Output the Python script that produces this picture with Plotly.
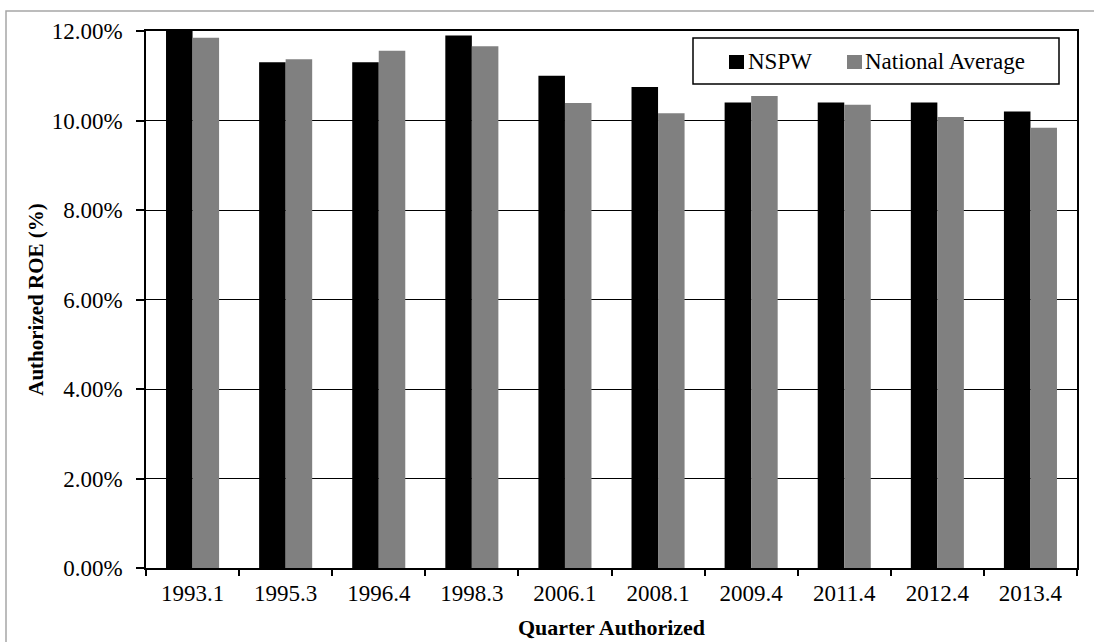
import plotly.graph_objects as go

# Authorized return on equity by rate-case quarter
quarters = ["1993.1", "1995.3", "1996.4", "1998.3", "2006.1",
            "2008.1", "2009.4", "2011.4", "2012.4", "2013.4"]
nspw_roe = [12.00, 11.30, 11.30, 11.90, 11.00, 10.75, 10.40, 10.40, 10.40, 10.20]
national_avg_roe = [11.85, 11.37, 11.56, 11.66, 10.39, 10.16, 10.55, 10.35, 10.08, 9.84]

series_names = ["NSPW", "National Average"]
series_colors = ["#000000", "#808080"]

FONT = "Liberation Serif"

# Figure geometry (pixels)
W, H = 1094, 642
ML, MR, MT, MB = 146, 17, 31, 74
PW, PH = W - ML - MR, H - MT - MB


def px_x(x):
    return (x - ML) / PW


def px_y(y):
    return (H - MB - y) / PH


fig = go.Figure()
for name, vals, col in zip(series_names, [nspw_roe, national_avg_roe], series_colors):
    fig.add_trace(go.Bar(
        x=quarters, y=vals, name=name,
        marker=dict(color=col, line=dict(width=0)),
        showlegend=False,
    ))

fig.update_layout(
    width=W, height=H,
    margin=dict(l=ML, r=MR, t=MT, b=MB, autoexpand=False),
    paper_bgcolor="white", plot_bgcolor="white",
    barmode="group", bargap=0.43, bargroupgap=0.0,
    font=dict(family=FONT, size=23, color="black"),
)

fig.update_xaxes(
    type="category",
    showline=True, linecolor="black", linewidth=1.5, mirror=True,
    ticks="outside", tickson="boundaries", ticklen=6, tickcolor="black", tickwidth=1.5,
    ticklabelstandoff=4,
    tickfont=dict(family=FONT, size=23, color="black"),
    showgrid=False,
    title=dict(text="<b>Quarter Authorized</b>", font=dict(family=FONT, size=22, color="black"),
               standoff=14),
)

fig.update_yaxes(
    range=[0, 12], dtick=2, tick0=0,
    tickformat=".2f", ticksuffix="%",
    showline=True, linecolor="black", linewidth=1.5, mirror=True,
    ticks="outside", ticklen=8, tickcolor="black", tickwidth=1.5,
    ticklabelstandoff=9,
    tickfont=dict(family=FONT, size=23, color="black"),
    showgrid=True, gridcolor="black", gridwidth=1,
    zeroline=False,
    title=dict(text="<b>Authorized ROE (%)</b>", font=dict(family=FONT, size=21, color="black"),
               standoff=2),
)

shapes = []
# outer chart border
shapes.append(dict(type="rect", xref="paper", yref="paper",
                   x0=px_x(6), x1=px_x(1120), y0=px_y(11), y1=px_y(680),
                   line=dict(color="#a6a6a6", width=1.5), fillcolor="rgba(0,0,0,0)", layer="below"))
# legend box
shapes.append(dict(type="rect", xref="paper", yref="paper",
                   x0=px_x(693), x1=px_x(1059), y0=px_y(38), y1=px_y(84),
                   line=dict(color="black", width=1.5), fillcolor="white", layer="above"))

annotations = []
swatch_x = [729, 847]
text_x = [746, 863]
for name, col, sx, tx in zip(series_names, series_colors, swatch_x, text_x):
    shapes.append(dict(type="rect", xref="paper", yref="paper",
                       x0=px_x(sx), x1=px_x(sx + 15), y0=px_y(55), y1=px_y(69),
                       line=dict(width=0), fillcolor=col, layer="above"))
    annotations.append(dict(xref="paper", yref="paper", x=px_x(tx), y=px_y(61),
                            xanchor="left", yanchor="middle", showarrow=False,
                            text=name, font=dict(family=FONT, size=23, color="black")))

fig.update_layout(shapes=shapes, annotations=annotations)

fig.write_html("out.html")
